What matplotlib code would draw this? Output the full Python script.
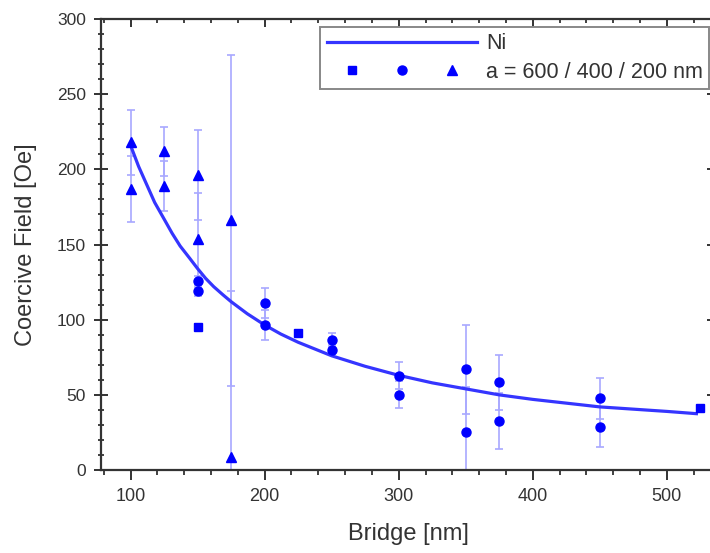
import matplotlib
matplotlib.use("Agg")
import matplotlib.pyplot as plt
from matplotlib.legend_handler import HandlerTuple
from matplotlib.ticker import MultipleLocator

plt.rcParams['font.family'] = ['Liberation Sans', 'DejaVu Sans']

# fitted Ni curve
fit_x = [100, 106, 112, 118, 125, 131, 137, 144, 150, 156, 162, 169, 175,
         187, 200, 212, 225, 250, 275, 300, 325, 350, 375, 400, 425, 450,
         475, 500, 522]
fit_y = [216, 202, 190, 178, 167, 157.5, 149, 141, 134, 127.5, 122, 116.5, 112,
         104, 96.5, 90.5, 85, 76, 69, 63, 58, 54, 50, 47, 44.5, 42,
         40.5, 39, 37.5]

# a = 600 nm (squares)
sq_x = [150, 225, 525]
sq_y = [95, 91, 41]
sq_err = [2, 2, 1]

# a = 400 nm (circles)
ci_x = [150, 150, 200, 200, 250, 250, 300, 300, 350, 350, 375, 375, 450, 450]
ci_y = [126, 119, 111, 96.5, 86.5, 80, 62.6, 50, 67, 25.5, 58.4, 32.6, 47.7, 28.4]
ci_err = [3, 3, 10, 10, 4.5, 3, 9, 9, 29.5, 29.5, 18.2, 18.5, 13.8, 13.4]

# a = 200 nm (triangles)
tr_x = [100, 100, 125, 125, 150, 150, 175, 175]
tr_y = [218, 187, 212, 189, 196, 154, 166, 9]
tr_err = [21.5, 22, 16.5, 16.5, 30, 30, 110, 110]

BLUE = "#0000ff"
ERR = "#a8a8ff"
AXC = "#333333"

fig = plt.figure(figsize=(7.1, 5.53), dpi=100)
ax = fig.add_axes([0.1423, 0.150, 0.865, 0.8156])

fit_line, = ax.plot(fit_x, fit_y, color="#3535ff", lw=2.3, zorder=2)

err_kw = dict(fmt="none", ecolor=ERR, elinewidth=1.2, capsize=3, capthick=1.2, zorder=1)
ax.errorbar(sq_x, sq_y, yerr=sq_err, **err_kw)
ax.errorbar(ci_x, ci_y, yerr=ci_err, **err_kw)
ax.errorbar(tr_x, tr_y, yerr=tr_err, **err_kw)

sq, = ax.plot(sq_x, sq_y, "s", color=BLUE, ms=6, ls="none", zorder=3)
ci, = ax.plot(ci_x, ci_y, "o", color=BLUE, ms=6.5, ls="none", zorder=3)
tr, = ax.plot(tr_x, tr_y, "^", color=BLUE, ms=7.5, ls="none", zorder=3)

ax.set_xlim(78, 536)
ax.set_ylim(0, 300)
ax.xaxis.set_major_locator(MultipleLocator(100))
ax.xaxis.set_minor_locator(MultipleLocator(20))
ax.yaxis.set_major_locator(MultipleLocator(50))
ax.yaxis.set_minor_locator(MultipleLocator(10))

for s in ax.spines.values():
    s.set_color(AXC)
    s.set_linewidth(1.6)

ax.tick_params(axis="x", which="major", direction="out", length=7, width=1.4,
               color=AXC, labelsize=13, labelcolor=AXC, pad=6)
ax.tick_params(axis="x", which="minor", direction="out", length=3.5, width=1.3, color=AXC)
ax.tick_params(axis="y", which="major", direction="inout", length=10, width=1.4,
               color=AXC, labelsize=12.5, labelcolor=AXC, pad=6)
ax.tick_params(axis="y", which="minor", direction="inout", length=4, width=1.3, color=AXC)

# mirrored ticks on top and right, pointing inwards, no labels
top = ax.secondary_xaxis("top")
top.set_xticks([100, 200, 300, 400, 500])
top.xaxis.set_minor_locator(MultipleLocator(20))
top.tick_params(which="major", direction="in", length=6, width=1.4, color=AXC, labeltop=False)
top.tick_params(which="minor", direction="in", length=3, width=1.3, color=AXC)
top.spines["top"].set_visible(False)
right = ax.secondary_yaxis("right")
right.set_yticks([0, 50, 100, 150, 200, 250, 300])
right.yaxis.set_minor_locator(MultipleLocator(10))
right.tick_params(which="major", direction="in", length=6, width=1.4, color=AXC, labelright=False)
right.tick_params(which="minor", direction="in", length=3, width=1.3, color=AXC)
right.spines["right"].set_visible(False)

ax.set_xlabel("Bridge [nm]", fontsize=17, color=AXC, labelpad=13)
ax.set_ylabel("Coercive Field [Oe]", fontsize=17, color=AXC, labelpad=14)

leg = ax.legend([fit_line, (sq, ci, tr)], ["Ni", "a = 600 / 400 / 200 nm"],
                handler_map={tuple: HandlerTuple(ndivide=None, pad=0)},
                loc="upper left", bbox_to_anchor=(0.357, 0.983),
                fontsize=15.5, handlelength=7.0, handletextpad=0.4,
                labelspacing=0.35, borderpad=0.3, borderaxespad=0,
                fancybox=False, framealpha=1, edgecolor="#888888")
leg.get_frame().set_linewidth(1.4)
for t in leg.get_texts():
    t.set_color(AXC)

fig.savefig("out.png", dpi=100)
